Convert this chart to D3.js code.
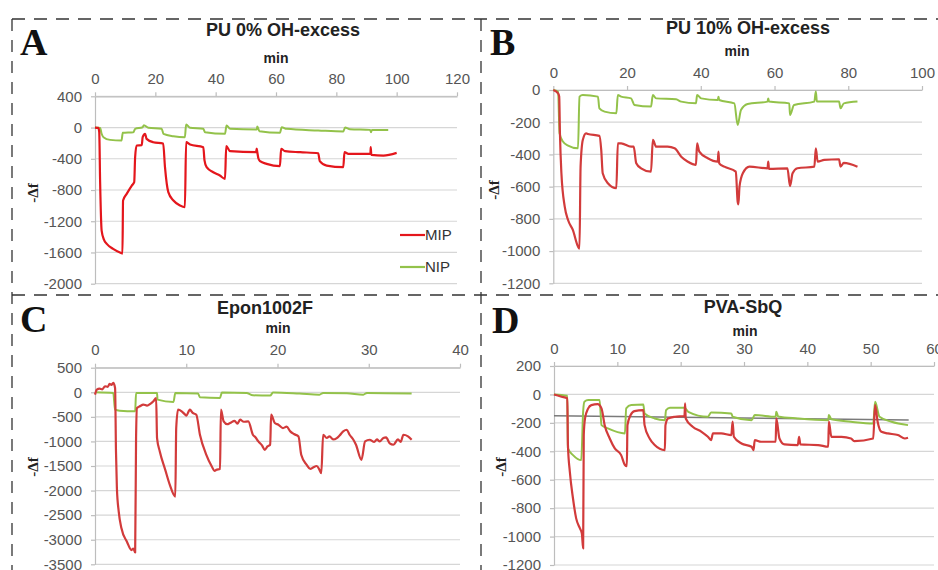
<!DOCTYPE html>
<html>
<head>
<meta charset="utf-8">
<script src="https://cdn.jsdelivr.net/npm/d3@7"></script>
<style>
  body { margin: 0; background: #fff; }
  #chart { width: 938px; height: 570px; overflow: hidden; }
</style>
</head>
<body>
<div id="chart"></div>
<script>
// Datos: [min, -Δf]
const mipA = [[0,0],[1.1,-5],[1.4,-60],[1.7,-700],[2.2,-1320],[3,-1440],[3.9,-1490],[6,-1554],[8.8,-1610],[9.1,-1615],
  [9.3,-935],[10.5,-850],[12.2,-743],[13,-700],[13.3,-380],[13.8,-230],[15.5,-225],[15.8,-124],[16.6,-80],[17.1,-145],[19.3,-188],[22.6,-205],
  [23.2,-508],[24.3,-828],[26,-935],[28.2,-999],[29.8,-1020],
  [30.2,-188],[31.5,-218],[35.9,-252],
  [36.3,-420],[37,-508],[39.2,-572],[41.4,-615],[43.1,-657],
  [43.5,-239],[44.8,-303],[53.4,-316],[53.6,-270],[53.8,-316],
  [54.2,-400],[54.7,-430],[56.9,-465],[61.3,-495],
  [61.7,-273],[63,-303],[68,-316],[74,-329],
  [74.5,-430],[76.8,-487],[82.3,-508],
  [82.7,-316],[84,-337],[90,-337],[91.3,-337],[91.4,-252],[91.6,-350],[95.6,-359],[100,-325]];
const nipA = [[0,0],[1.7,-5],[2.2,-80],[2.8,-124],[5,-158],[8.8,-166],[9.2,-68],[12.7,-60],[13.3,-17],[15.8,4],[16.2,30],[17.7,-4],
  [22.1,-17],[22.7,-81],[26,-111],[29.8,-124],[30.2,38],[31.5,-4],[35.9,-17],[36.5,-60],[43.1,-81],[43.6,26],[44.8,-17],
  [53.6,-26],[53.8,13],[54.5,-47],[61.3,-68],[61.9,4],[63.5,-17],[74,-38],[82.3,-51],[82.9,0],[84.5,-21],[91.2,-30],
  [91.5,-60],[91.8,-30],[97.2,-30]];

const mipB = [[0,0],[1.3,-21],[1.6,-40],[1.8,-269],[2.2,-517],[3.1,-724],[4,-807],[5.3,-869],[6.7,-972],[7.1,-985],
  [7.4,-476],[8,-310],[8.9,-269],[9.4,-273],[12.5,-285],
  [13,-372],[13.4,-517],[14.8,-579],[17.1,-610],
  [17.5,-331],[18.4,-331],[21.1,-352],[21.8,-352],
  [22.5,-455],[23.8,-486],[26.5,-507],
  [27,-310],[27.9,-352],[31,-352],[32.9,-362],[34.7,-414],[36.5,-445],[38.7,-465],
  [39,-331],[39.6,-383],[41.9,-424],[44.6,-445],[44.8,-383],[45,-455],[46.4,-476],[49.5,-507],
  [50,-693],[50.2,-710],[50.5,-600],[51.4,-517],[53.2,-476],[58.1,-486],[58.3,-445],[58.5,-490],[63.5,-486],
  [64.2,-596],[64.9,-517],[66.2,-486],[70.8,-476],
  [71.2,-362],[71.7,-445],[73.5,-434],[77.5,-430],[77.9,-476],[78.8,-452],[82.5,-476]];
const nipB = [[0,0],[1.3,-10],[1.7,-269],[2.6,-320],[4,-345],[6.7,-362],[7.1,-41],[8,-31],[12.1,-41],[12.5,-114],[13.9,-134],
  [17.1,-145],[17.5,-31],[18.4,-41],[21.1,-52],[22,-93],[26.5,-103],[27,-31],[27.9,-52],[33.3,-58],[34.7,-72],[38.7,-83],
  [39,-31],[40.1,-52],[44.6,-62],[44.8,-42],[45,-62],[49.1,-83],[50,-217],[50.9,-124],[52.7,-87],[58.1,-72],[58.3,-52],
  [58.5,-72],[64,-83],[64.2,-155],[65.3,-93],[70.8,-72],[71.2,-10],[71.5,-72],[77.5,-72],[77.9,-114],[78.8,-83],[82.5,-72]];

const mipC = [[0,-48],[0.2,54],[0.5,75],[0.8,60],[1.1,122],[1.4,110],[1.6,170],[1.8,150],[2.0,190],[2.2,88],
  [2.3,-1204],[2.4,-1952],[2.6,-2428],[2.9,-2768],[3.5,-3040],[4.0,-3210],[4.2,-3180],[4.4,-3260],
  [4.5,-932],[4.6,-320],[4.9,-286],[5.3,-250],[5.7,-272],[6.1,-230],[6.4,-184],[6.7,-116],
  [6.8,-932],[7.1,-1204],[7.7,-1578],[8.2,-1884],[8.8,-2122],
  [8.9,-728],[9.1,-354],[9.5,-388],[9.8,-440],[10,-476],[10.4,-354],[10.7,-420],[11.1,-456],
  [11.5,-864],[12.2,-1272],[12.8,-1510],[13.1,-1600],[13.3,-1578],[13.7,-1560],
  [13.8,-354],[14.1,-592],[14.5,-650],[14.8,-626],[15.3,-580],[15.6,-640],[15.9,-558],[16.3,-600],[16.8,-592],[17.3,-864],
  [17.6,-920],[17.9,-1000],[18.3,-1080],[18.6,-1170],[18.9,-1100],[19.2,-1068],
  [19.3,-456],[19.7,-626],[20.1,-660],[20.6,-728],[21,-700],[21.4,-796],[21.8,-850],[22.3,-898],
  [22.6,-1272],[23.2,-1476],[23.6,-1560],[23.9,-1530],[24.3,-1500],[24.6,-1578],[24.8,-1646],
  [25,-864],[25.4,-930],[25.7,-898],[26.1,-960],[26.5,-932],[26.8,-880],[27.2,-796],[27.6,-762],[27.9,-864],[28.3,-960],[28.6,-1068],[29.2,-1374],
  [29.6,-1000],[30.1,-966],[30.6,-1010],[30.9,-960],[31.2,-1000],[31.6,-930],[31.9,-918],[32.3,-1040],[32.7,-1068],[33.2,-960],[33.5,-1010],[33.8,-864],[34.3,-898],[34.7,-966]];
const nipC = [[0,0],[2.0,-14],[2.2,-354],[2.7,-374],[4.4,-388],[4.5,-14],[6.8,-14],[6.85,-150],[8.6,-197],[8.8,-14],[11.3,-27],
  [11.5,-102],[13.7,-116],[13.9,-7],[16.6,-14],[17.3,-61],[19.2,-68],[19.5,-7],[22.4,-27],[24.6,-48],[25,-14],[27.6,-20],
  [29.4,-48],[29.8,-14],[34.7,-27]];

const mipD = [[0,0],[1.2,-16],[2.1,-28],[2.2,-356],[2.5,-544],[3,-732],[3.5,-872],[4.1,-943],[4.4,-978],[4.6,-1083],
  [4.7,-286],[4.9,-169],[5.4,-98],[5.9,-75],[6.9,-68],[7.5,-98],
  [8,-216],[8.8,-310],[9.6,-380],[10.6,-427],[11.2,-497],[11.5,-505],
  [11.6,-216],[12.1,-145],[12.7,-117],[14.1,-110],
  [14.3,-216],[15.1,-310],[15.9,-356],[17.5,-392],
  [17.6,-216],[18,-169],[19.1,-157],[20.6,-152],[20.7,-63],[20.8,-169],[21.9,-227],[23.3,-263],[24.3,-298],[24.8,-321],
  [25.1,-274],[26.4,-274],[28,-286],[28.2,-192],[28.4,-298],[29.6,-345],[31.2,-368],[31.5,-392],[31.7,-321],[32.7,-333],
  [35,-333],[35.1,-169],[35.6,-310],[36.4,-352],[38.5,-356],[38.7,-298],[38.9,-352],[41.7,-356],[43.3,-368],[43.4,-192],
  [43.8,-298],[45.4,-298],[46.9,-310],[47.4,-328],[50.4,-310],[50.7,-75],[51.1,-192],[51.7,-263],[52.7,-274],[54.3,-286],
  [55.4,-310],[55.9,-305]];
const nipD = [[0,0],[2.1,-9],[2.2,-380],[3,-427],[4.3,-462],[4.6,-122],[4.8,-52],[5.4,-40],[7.2,-40],[7.5,-216],[8.5,-239],
  [11.2,-274],[11.4,-98],[12.2,-75],[14.1,-70],[14.3,-134],[15.9,-169],[17.5,-181],[17.7,-110],[18.3,-94],[20.6,-94],
  [21.2,-122],[24.3,-157],[24.8,-127],[28,-134],[28.2,-157],[31.2,-181],[31.7,-145],[35,-157],[35.1,-122],[35.4,-155],
  [38.5,-169],[43.3,-181],[43.4,-145],[43.8,-175],[46.9,-192],[50.4,-204],[50.7,-52],[51.4,-157],[53.3,-192],[55.9,-216]];
const trendD = [[0,-150],[56,-180]];

// Ticks
const xTicksA = [0,20,40,60,80,100,120], yTicksA = [400,0,-400,-800,-1200,-1600,-2000];
const xTicksB = [0,20,40,60,80,100],     yTicksB = [0,-200,-400,-600,-800,-1000,-1200];
const xTicksC = [0,10,20,30,40],         yTicksC = [500,0,-500,-1000,-1500,-2000,-2500,-3000,-3500];
const xTicksD = [0,10,20,30,40,50,60],   yTicksD = [200,0,-200,-400,-600,-800,-1000,-1200];

const legendLabels = ['MIP', 'NIP'];

// Colores
const RED_A = '#e4161c', RED = '#d23b3b', GREEN = '#93c24a', GRID = '#d6d6d6', AXIS = '#bdbdbd';
const SANS = '"Liberation Sans", Arial, sans-serif', SERIF = '"Liberation Serif", "Times New Roman", serif';

const panels = [
  {letter:'A', title:'PU 0% OH-excess', xTicks:xTicksA, yTicks:yTicksA, mip:mipA, nip:nipA, red:RED_A,
   px:[95,457], py:[283.7,96.3], lx:20, ly:55, tx:283, ty:36, mx:276, my:62.7, fx:33, fy:193},
  {letter:'B', title:'PU 10% OH-excess', xTicks:xTicksB, yTicks:yTicksB, mip:mipB, nip:nipB, red:RED,
   px:[553.3,922], py:[283.3,90], lx:490, ly:55, tx:748, ty:33.5, mx:737, my:56, fx:494, fy:190},
  {letter:'C', title:'Epon1002F', xTicks:xTicksC, yTicks:yTicksC, mip:mipC, nip:nipC, red:RED,
   px:[95,460], py:[564.3,367.7], lx:20, ly:332, tx:265, ty:314.3, mx:278, my:333.3, fx:33, fy:467},
  {letter:'D', title:'PVA-SbQ', xTicks:xTicksD, yTicks:yTicksD, mip:mipD, nip:nipD, red:RED, trend:trendD,
   px:[554,934], py:[565,366], lx:492, ly:333, tx:743, ty:313.3, mx:745, my:335.7, fx:501, fy:467}
];

let svg = d3.select('#chart').append('svg')
  .attr('width', 938).attr('height', 570)
  .style('font-family', SANS);

//Marcos discontinuos
let frame = svg.append('g').attr('stroke', '#333').attr('stroke-width', 1.3).attr('fill', 'none');
frame.append('line').attr('x1', 12).attr('x2', 938).attr('y1', 19).attr('y2', 19).attr('stroke-dasharray', '13,9');
frame.append('line').attr('x1', 12).attr('x2', 938).attr('y1', 295).attr('y2', 295).attr('stroke-dasharray', '13,9');
frame.append('line').attr('x1', 12).attr('x2', 12).attr('y1', 19).attr('y2', 570).attr('stroke-dasharray', '12,9');
frame.append('line').attr('x1', 481).attr('x2', 481).attr('y1', 19).attr('y2', 570).attr('stroke-dasharray', '12,9');

panels.forEach(function(p) {
  let g = svg.append('g');
  let x = d3.scaleLinear().domain(d3.extent(p.xTicks)).range(p.px);
  let y = d3.scaleLinear().domain(d3.extent(p.yTicks)).range(p.py);

  //Rejilla
  g.append('g').selectAll('line').data(p.yTicks).enter().append('line')
    .attr('x1', p.px[0]).attr('x2', p.px[1])
    .attr('y1', function(d) { return y(d); }).attr('y2', function(d) { return y(d); })
    .attr('stroke', GRID).attr('stroke-width', 1.2);

  //Ejes
  let fmt = function(d) { return String(d); };
  let xAxis = g.append('g').attr('transform', 'translate(0,' + y(d3.max(p.yTicks)) + ')')
    .call(d3.axisTop(x).tickValues(p.xTicks).tickFormat(fmt).tickSize(4).tickPadding(8.5).tickSizeOuter(0));
  let yAxis = g.append('g').attr('transform', 'translate(' + p.px[0] + ',0)')
    .call(d3.axisLeft(y).tickValues(p.yTicks).tickFormat(fmt).tickSize(4).tickPadding(9).tickSizeOuter(0));
  [xAxis, yAxis].forEach(function(a) {
    a.attr('font-family', null).attr('font-size', null);
    a.select('.domain').attr('stroke', AXIS).attr('stroke-width', 1.2);
    a.selectAll('.tick line').attr('stroke', AXIS).attr('stroke-width', 1.2);
    a.selectAll('.tick text').attr('fill', '#555').style('font-size', '15px').style('font-family', SANS);
  });

  //Líneas
  let line = d3.line().x(function(d) { return x(d[0]); }).y(function(d) { return y(d[1]); })
    .curve(d3.curveMonotoneX);
  if (p.trend) {
    g.append('path').datum(p.trend).attr('d', line).attr('fill', 'none')
      .attr('stroke', '#7a7a7a').attr('stroke-width', 1.4);
  }
  g.append('path').datum(p.nip).attr('d', line).attr('fill', 'none')
    .attr('stroke', GREEN).attr('stroke-width', 2).attr('stroke-linejoin', 'round');
  g.append('path').datum(p.mip).attr('d', line).attr('fill', 'none')
    .attr('stroke', p.red).attr('stroke-width', 2.2).attr('stroke-linejoin', 'round');

  //Textos
  g.append('text').attr('x', p.lx).attr('y', p.ly).text(p.letter)
    .style('font-family', SERIF).style('font-weight', 'bold')
    .style('font-size', '38px').attr('fill', '#111');
  g.append('text').attr('x', p.tx).attr('y', p.ty).attr('text-anchor', 'middle').text(p.title)
    .style('font-weight', 'bold').style('font-size', '18px').attr('fill', '#222');
  g.append('text').attr('x', p.mx).attr('y', p.my).attr('text-anchor', 'middle').text('min')
    .style('font-weight', 'bold').style('font-size', '14px').attr('fill', '#222');
  g.append('text').attr('transform', 'translate(' + p.fx + ',' + p.fy + ') rotate(-90)')
    .attr('text-anchor', 'middle').attr('dy', '0.35em').text('-Δf')
    .style('font-family', SERIF).style('font-weight', 'bold')
    .style('font-size', '15px').attr('fill', '#222');
});

//Leyenda (panel A)
let legend = svg.append('g');
legend.selectAll('line').data(legendLabels).enter().append('line')
  .attr('x1', 400).attr('x2', 425)
  .attr('y1', function(d, i) { return 235 + i * 32; }).attr('y2', function(d, i) { return 235 + i * 32; })
  .attr('stroke', function(d, i) { return i == 0 ? RED_A : GREEN; }).attr('stroke-width', 2.2);
legend.selectAll('text').data(legendLabels).enter().append('text')
  .attr('x', 425).attr('y', function(d, i) { return 235 + i * 32; }).attr('dy', '0.36em')
  .text(function(d) { return d; }).style('font-size', '15px').attr('fill', '#333');
</script>
</body>
</html>
